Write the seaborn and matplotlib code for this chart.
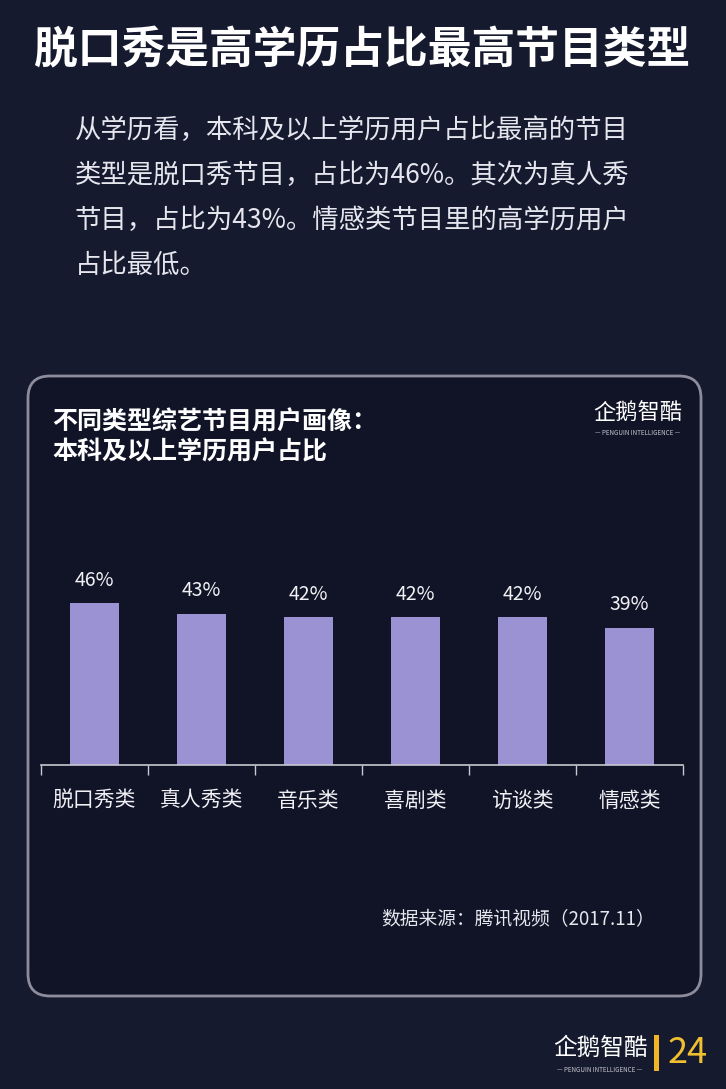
import matplotlib
matplotlib.use('Agg')
import matplotlib.pyplot as plt
import seaborn as sns
from matplotlib.patches import FancyBboxPatch, Rectangle

# data
categories = ['脱口秀类', '真人秀类', '音乐类', '喜剧类', '访谈类', '情感类']
values = [46, 43, 42, 42, 42, 39]

title = '脱口秀是高学历占比最高节目类型'
body_lines = ['从学历看，本科及以上学历用户占比最高的节目',
              '类型是脱口秀节目，占比为46%。其次为真人秀',
              '节目，占比为43%。情感类节目里的高学历用户',
              '占比最低。']
chart_title = ['不同类型综艺节目用户画像：', '本科及以上学历用户占比']
source = '数据来源：腾讯视频（2017.11）'
page_no = '24'

sns.set_style('white')
plt.rcParams['font.family'] = ['Noto Sans CJK SC', 'DejaVu Sans']

bg = '#161a2e'
panel = '#111327'
bar_color = '#9b92d4'

fig = plt.figure(figsize=(7.26, 10.89), dpi=100)
fig.patch.set_facecolor(bg)

# background layer in pixel coords
bgax = fig.add_axes([0, 0, 1, 1], zorder=0)
bgax.set_xlim(0, 726)
bgax.set_ylim(1089, 0)
bgax.axis('off')
bgax.add_patch(FancyBboxPatch((28, 376), 673, 620,
                              boxstyle='round,pad=0,rounding_size=22',
                              facecolor=panel, edgecolor='#8c8c9c', linewidth=2))

bgax.text(362, 50, title, color='white', fontsize=31.5, fontweight='bold',
          ha='center', va='center')
for i, line in enumerate(body_lines):
    bgax.text(75, 130 + i * 45, line, color='#e6e6ee', fontsize=19,
              ha='left', va='center')

bgax.text(52, 422, chart_title[0], color='white', fontsize=18, fontweight='bold',
          ha='left', va='center')
bgax.text(52, 452, chart_title[1], color='white', fontsize=18, fontweight='bold',
          ha='left', va='center')

bgax.text(655, 920, source, color='#e6e6ee', fontsize=13.5, ha='right', va='center')

# logos (text approximations)
bgax.text(638, 412, '企鹅智酷', color='white', fontsize=16, ha='center', va='center')
bgax.text(638, 433, '— PENGUIN INTELLIGENCE —', color='#c8c8d0', fontsize=4.5,
          ha='center', va='center')
bgax.text(600, 1048, '企鹅智酷', color='white', fontsize=17, ha='center', va='center')
bgax.text(600, 1070, '— PENGUIN INTELLIGENCE —', color='#c8c8d0', fontsize=4.5,
          ha='center', va='center')
bgax.add_patch(Rectangle((654, 1035), 5, 36, facecolor='#f0b428', edgecolor='none'))
bgax.text(668, 1053, page_no, color='#f0c030', fontsize=26, ha='left', va='center')

# bar chart
ax = fig.add_axes([41 / 726, 1 - 765 / 1089, 642 / 726, 265 / 1089], zorder=1)
ax.set_facecolor('none')
sns.barplot(x=categories, y=values, color=bar_color, width=0.45,
            saturation=1, linewidth=0, ax=ax)
ax.set_xlim(-0.5, len(categories) - 0.5)
ax.set_ylim(0, 265 / 3.52)

for i, v in enumerate(values):
    ax.text(i, v + 3.5, f'{v}%', color='#f0f0f5', fontsize=14,
            ha='center', va='bottom')

for s in ['top', 'right', 'left']:
    ax.spines[s].set_visible(False)
ax.spines['bottom'].set_color('#c8c8d0')
ax.spines['bottom'].set_linewidth(1.2)
ax.set_yticks([])
ax.set_xticks(range(len(categories)))
ax.set_xticklabels(categories, color='#f0f0f5', fontsize=15)
ax.set_xticks([i - 0.5 for i in range(len(categories) + 1)], minor=True)
ax.tick_params(axis='x', which='major', length=0, pad=18)
ax.tick_params(axis='x', which='minor', length=7, width=1, color='#c8c8d0',
               direction='out', bottom=True)
ax.set_xlabel('')
ax.set_ylabel('')

fig.savefig('out.png', dpi=100, facecolor=bg)
